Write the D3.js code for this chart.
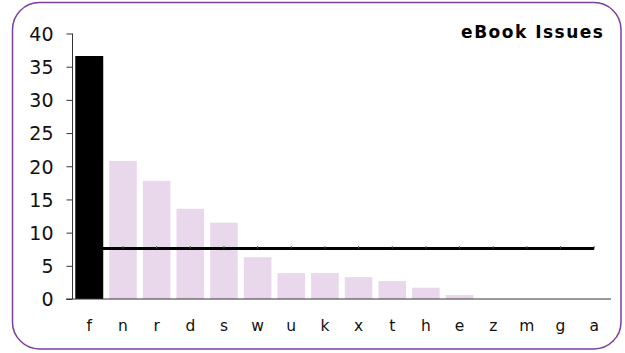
<!DOCTYPE html>
<html><head><meta charset="utf-8">
<script src="https://cdn.jsdelivr.net/npm/d3@7"></script>
<style>body{margin:0;background:#fff}svg{display:block}</style>
</head><body><svg id="c" width="625" height="353"></svg>
<script>
const categories = ["f","n","r","d","s","w","u","k","x","t","h","e","z","m","g","a"];
const values = [36.6,20.8,17.8,13.6,11.5,6.3,3.9,3.9,3.3,2.7,1.7,0.6,0,0,0,0];
const averageValue = [7.6];
const yTicks = [0,5,10,15,20,25,30,35,40];
const title = "eBook Issues";

const svg = d3.select("#c");
svg.append("rect").attr("x",12.5).attr("y",2.5).attr("width",608.5).attr("height",346.5)
  .attr("rx",27).attr("ry",27).attr("fill","#fff").attr("stroke","#7b3f9e").attr("stroke-width",1.5);

const pLeft=72.5, pRight=611, pTop=33.5, pBottom=299;
const x = d3.scaleBand().domain(categories).range([pLeft,pRight]).paddingInner(0.18).paddingOuter(0.09);
const y = d3.scaleLinear().domain([0,40]).range([pBottom,pTop]);

// bars
svg.selectAll("rect.bar").data(categories.map((c,i)=>({c,v:values[i],i}))).enter()
  .append("rect").attr("class","bar")
  .attr("x",d=>x(d.c)).attr("width",x.bandwidth())
  .attr("y",d=>y(d.v)).attr("height",d=>pBottom-y(d.v))
  .attr("fill",d=>d.i===0?"#000":"#e9d8eb");

// average line
const lineData = categories.map(c=>({c,v:averageValue[0]}));
const line = d3.line().x(d=>x(d.c)+x.bandwidth()/2).y(d=>y(d.v));
svg.append("path").datum(lineData).attr("d",line).attr("fill","none").attr("stroke","#000").attr("stroke-width",3);
svg.selectAll("line.mk").data(lineData.slice(1)).enter().append("line").attr("class","mk")
  .attr("x1",d=>x(d.c)+x.bandwidth()/2).attr("x2",d=>x(d.c)+x.bandwidth()/2)
  .attr("y1",d=>y(d.v)-2.5).attr("y2",d=>y(d.v)).attr("stroke","#555").attr("stroke-width",1);
// black bar drawn over line start
svg.append("rect").attr("x",x(categories[0])).attr("width",x.bandwidth())
  .attr("y",y(values[0])).attr("height",pBottom-y(values[0])).attr("fill","#000");

// y axis
const yAxis = d3.axisLeft(y).tickValues(yTicks).tickSize(6).tickFormat(d3.format("d"));
const gy = svg.append("g").attr("transform",`translate(${pLeft},0)`).call(yAxis);
gy.select(".domain").attr("stroke","#333").attr("d",`M-0,${pTop}V${pBottom}`);
gy.selectAll(".tick line").attr("stroke","#333");
gy.selectAll(".tick text").attr("font-family","DejaVu Sans, Verdana, sans-serif").attr("font-size",19).attr("fill","#111").attr("x",-19).attr("dy","0.36em");

// x axis
const xAxis = d3.axisBottom(x).tickSize(0);
const gx = svg.append("g").attr("transform",`translate(0,${pBottom})`).call(xAxis);
gx.select(".domain").attr("stroke","#333").attr("d",`M66,0H${pRight}`);
gx.selectAll(".tick text").attr("font-family","DejaVu Sans, Verdana, sans-serif").attr("font-size",15.5).attr("fill","#111").attr("dy",0).attr("y",31.5);

svg.append("text").attr("x",604.5).attr("y",38).attr("text-anchor","end")
  .attr("font-family","DejaVu Sans, Verdana, sans-serif").attr("font-weight","bold").attr("font-size",17)
  .attr("letter-spacing",1.5).attr("fill","#000").text(title);
</script></body></html>
